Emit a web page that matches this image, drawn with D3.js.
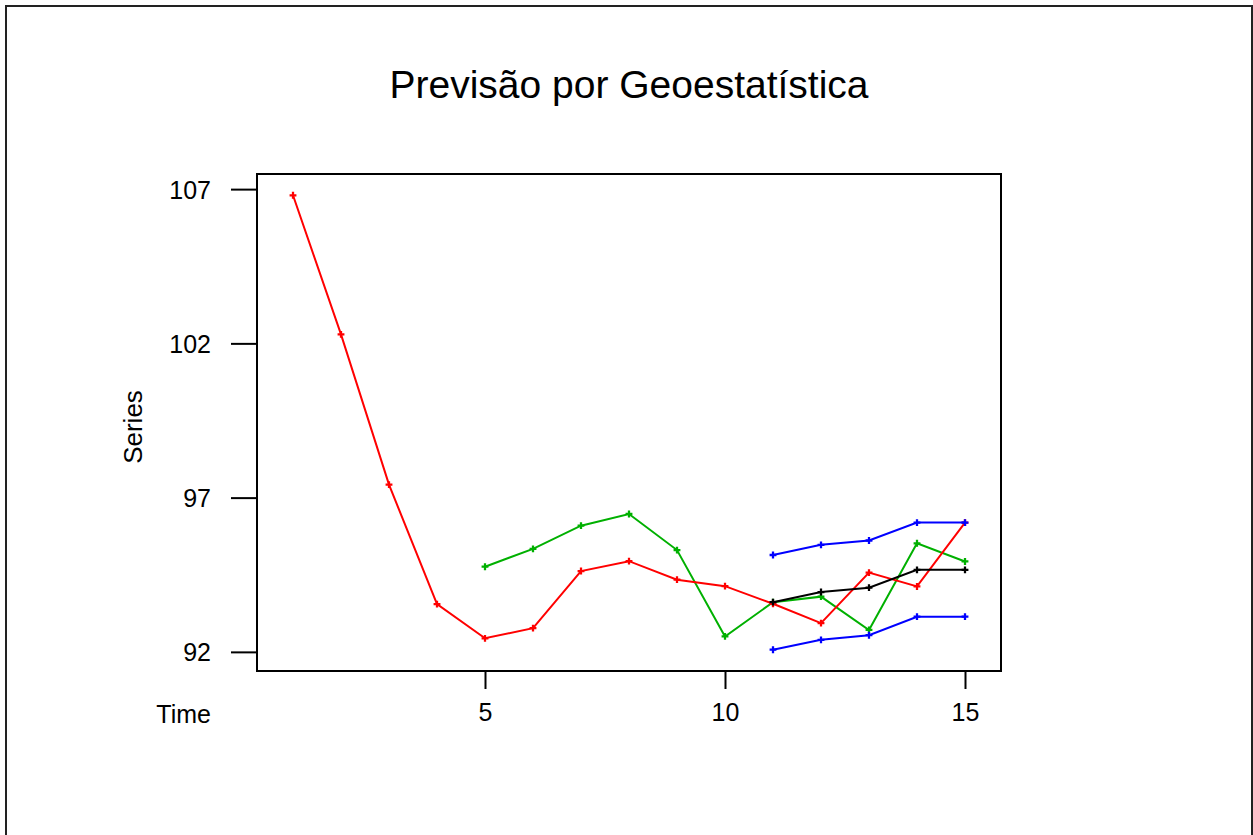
<!DOCTYPE html>
<html>
<head>
<meta charset="utf-8">
<script src="https://cdn.jsdelivr.net/npm/d3@7"></script>
<style>
  body { margin: 0; background: #fff; }
  svg { display: block; font-family: Arial, "Liberation Sans", sans-serif; }
</style>
</head>
<body>
<div id="chart"></div>
<script>
// values
const time = [1, 2, 3, 4, 5, 6, 7, 8, 9, 10, 11, 12, 13, 14, 15];
const observed = [106.80, 102.29, 97.42, 93.55, 92.44, 92.77, 94.62, 94.94, 94.34, 94.13, 93.56, 92.93, 94.57, 94.12, 96.19];
const geoTime = [5, 6, 7, 8, 9, 10, 11, 12, 13, 14, 15];
const geoFit = [94.76, 95.34, 96.09, 96.47, 95.30, 92.50, 93.61, 93.79, 92.71, 95.52, 94.93];
const fcTime = [11, 12, 13, 14, 15];
const forecast = [93.61, 93.94, 94.08, 94.66, 94.66];
const upper = [95.14, 95.47, 95.61, 96.19, 96.19];
const lower = [92.07, 92.39, 92.54, 93.14, 93.14];
const xTicks = [5, 10, 15];
const yTicks = [92, 97, 102, 107];

const series = [
  {x: geoTime, y: geoFit, color: "#00b000"},
  {x: time, y: observed, color: "#ff0000"},
  {x: fcTime, y: upper, color: "#0000ff"},
  {x: fcTime, y: lower, color: "#0000ff"},
  {x: fcTime, y: forecast, color: "#000000"}
];

const W = 1253, H = 835;
const box = {left: 257, top: 174, right: 1001, bottom: 671};

const svg = d3.select("#chart").append("svg")
  .attr("width", W)
  .attr("height", H);

// outer frame
svg.append("rect")
  .attr("x", 6).attr("y", 6)
  .attr("width", 1246).attr("height", H + 10)
  .attr("fill", "none")
  .attr("stroke", "#222")
  .attr("stroke-width", 2);

const xScale = d3.scaleLinear()
  .domain([0.25, 15.75])
  .range([box.left, box.right]);
const yScale = d3.scaleLinear()
  .domain([91.38, 107.49])
  .range([box.bottom, box.top]);

svg.append("text")
  .attr("x", 629)
  .attr("y", 98)
  .attr("text-anchor", "middle")
  .attr("font-size", 39)
  .text("Previsão por Geoestatística");

// axes
const yAxis = d3.axisLeft(yScale)
  .tickValues(yTicks)
  .tickSize(26)
  .tickPadding(20)
  .tickFormat(d3.format("d"));
const gy = svg.append("g")
  .attr("transform", "translate(" + box.left + ",0)")
  .call(yAxis);

const xAxis = d3.axisBottom(xScale)
  .tickValues(xTicks)
  .tickSize(18)
  .tickPadding(14)
  .tickFormat(d3.format("d"));
const gx = svg.append("g")
  .attr("transform", "translate(0," + box.bottom + ")")
  .call(xAxis);

[gx, gy].forEach(function (g) {
  g.select(".domain").remove();
  g.selectAll(".tick line").attr("stroke", "#000").attr("stroke-width", 2);
  g.selectAll(".tick text").attr("font-size", 25).attr("fill", "#000")
    .attr("font-family", "Arial, 'Liberation Sans', sans-serif");
});
gy.selectAll(".tick text").attr("dy", "0.36em");

svg.append("text")
  .attr("x", 211)
  .attr("y", 723)
  .attr("text-anchor", "end")
  .attr("font-size", 25)
  .text("Time");

svg.append("text")
  .attr("transform", "translate(142,427) rotate(-90)")
  .attr("text-anchor", "middle")
  .attr("font-size", 26)
  .text("Series");

svg.append("rect")
  .attr("x", box.left).attr("y", box.top)
  .attr("width", box.right - box.left)
  .attr("height", box.bottom - box.top)
  .attr("fill", "none")
  .attr("stroke", "#000")
  .attr("stroke-width", 2);

const line = d3.line()
  .x(function (d) { return xScale(d[0]); })
  .y(function (d) { return yScale(d[1]); });

const marker = d3.symbol().type(d3.symbolCross).size(26);

series.forEach(function (s) {
  const pts = s.x.map(function (x, i) { return [x, s.y[i]]; });
  svg.append("path")
    .datum(pts)
    .attr("d", line)
    .attr("fill", "none")
    .attr("stroke", s.color)
    .attr("stroke-width", 2);
  svg.selectAll(null)
    .data(pts)
    .enter()
    .append("path")
    .attr("d", marker)
    .attr("transform", function (d) {
      return "translate(" + xScale(d[0]) + "," + yScale(d[1]) + ")";
    })
    .attr("fill", s.color);
});
</script>
</body>
</html>
